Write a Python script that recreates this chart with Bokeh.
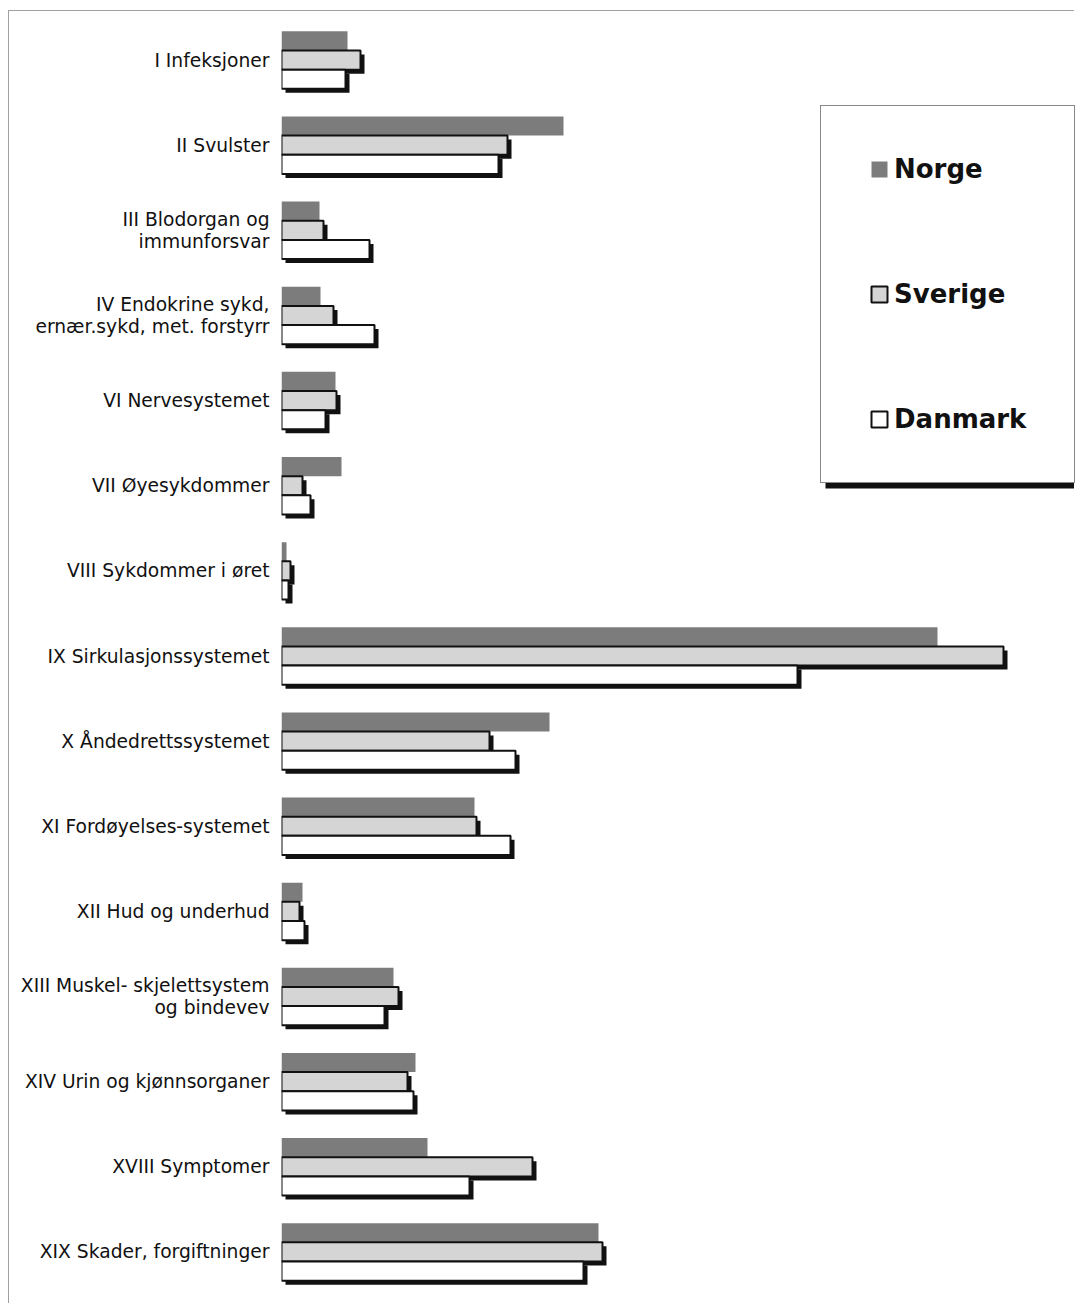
from bokeh.plotting import figure
from bokeh.models import ColumnDataSource, FactorRange, Range1d, Legend, LegendItem, BoxAnnotation
from bokeh.transform import dodge
from bokeh.embed import file_html
from bokeh.resources import INLINE

categories = [
    "I Infeksjoner",
    "II Svulster",
    "III Blodorgan og\nimmunforsvar",
    "IV Endokrine sykd,\nernær.sykd, met. forstyrr",
    "VI Nervesystemet",
    "VII Øyesykdommer",
    "VIII Sykdommer i øret",
    "IX Sirkulasjonssystemet",
    "X Åndedrettssystemet",
    "XI Fordøyelses-systemet",
    "XII Hud og underhud",
    "XIII Muskel- skjelettsystem\nog bindevev",
    "XIV Urin og kjønnsorganer",
    "XVIII Symptomer",
    "XIX Skader, forgiftninger",
]
norge = [66, 282, 38, 39, 54, 60, 5, 656, 268, 193, 21, 112, 134, 146, 317]
sverige = [79, 226, 42, 52, 55, 21, 9, 722, 208, 195, 18, 117, 126, 251, 321]
danmark = [64, 217, 88, 93, 44, 29, 7, 516, 234, 229, 23, 103, 132, 188, 302]
series_names = ["Norge", "Sverige", "Danmark"]

W, H = 1066, 1293
BL, BR, BT, BB = 272, 0, 6, 10
frame_w = W - BL - BR
frame_h = H - BT - BB
x_end = float(frame_w)
px_x = x_end / frame_w              # data units per pixel (x)
px_y = len(categories) / frame_h     # data units per pixel (y)
sh = 4                               # shadow offset in px
bar_h = 0.225

src = ColumnDataSource(dict(
    cat=categories,
    zero=[0] * len(categories),
    norge=norge,
    sverige=sverige,
    danmark=danmark,
    sh_left=[sh * px_x] * len(categories),
    sv_sh=[v + sh * px_x for v in sverige],
    dk_sh=[v + sh * px_x for v in danmark],
))

p = figure(
    width=W, height=H,
    y_range=FactorRange(factors=list(reversed(categories))),
    x_range=Range1d(0, x_end),
    output_backend="svg", toolbar_location=None,
    min_border_left=BL, min_border_right=BR, min_border_top=BT, min_border_bottom=BB,
)
p.margin = (10, 0, 0, 8)
p.styles = {"border-top": "1px solid #a0a0a0", "border-left": "1px solid #a0a0a0"}
p.xaxis.visible = False
p.xgrid.visible = False
p.ygrid.visible = False
p.outline_line_color = None
p.background_fill_color = "white"
p.border_fill_color = "white"

ax = p.yaxis[0]
ax.axis_line_color = None
ax.major_tick_line_color = None
ax.minor_tick_line_color = None
ax.major_tick_out = 0
ax.major_tick_in = 0
ax.major_label_standoff = 12
ax.major_label_text_font = "DejaVu Sans"
ax.major_label_text_font_size = "18.7px"
ax.major_label_text_color = "#111111"
ax.major_label_text_line_height = 1.05

rn = p.hbar(y=dodge("cat", bar_h, range=p.y_range), left="zero", right="norge", height=bar_h,
            source=src, fill_color="#7c7c7c", line_color=None)
p.hbar(y=dodge("cat", -sh * px_y, range=p.y_range), left="sh_left", right="sv_sh", height=bar_h,
       source=src, fill_color="#111111", line_color=None)
rs = p.hbar(y=dodge("cat", 0, range=p.y_range), left="zero", right="sverige", height=bar_h,
            source=src, fill_color="#d5d5d5", line_color="#111111", line_width=2)
p.hbar(y=dodge("cat", -bar_h - sh * px_y, range=p.y_range), left="sh_left", right="dk_sh", height=bar_h,
       source=src, fill_color="#111111", line_color=None)
rd = p.hbar(y=dodge("cat", -bar_h, range=p.y_range), left="zero", right="danmark", height=bar_h,
            source=src, fill_color="white", line_color="#111111", line_width=2)

# legend shadow
shadow = BoxAnnotation(left=815, right=1080, top=98, bottom=476,
                       left_units="canvas", right_units="canvas",
                       top_units="canvas", bottom_units="canvas",
                       fill_color="#111111", fill_alpha=1, line_color=None)
p.add_layout(shadow)

legend = Legend(
    items=[LegendItem(label=series_names[0], renderers=[rn]),
           LegendItem(label=series_names[1], renderers=[rs]),
           LegendItem(label=series_names[2], renderers=[rd])],
    location=(539, 811), orientation="vertical",
    padding=48, spacing=95, margin=0,
    glyph_width=20, glyph_height=20, label_standoff=5, label_height=30,
    label_text_font="DejaVu Sans", label_text_font_style="bold",
    label_text_font_size="26px", label_text_color="#111111",
    border_line_color="#111111", border_line_width=1,
    background_fill_color="white", background_fill_alpha=1,
)
p.add_layout(legend)

open("out.html", "w").write(file_html(p, INLINE))
